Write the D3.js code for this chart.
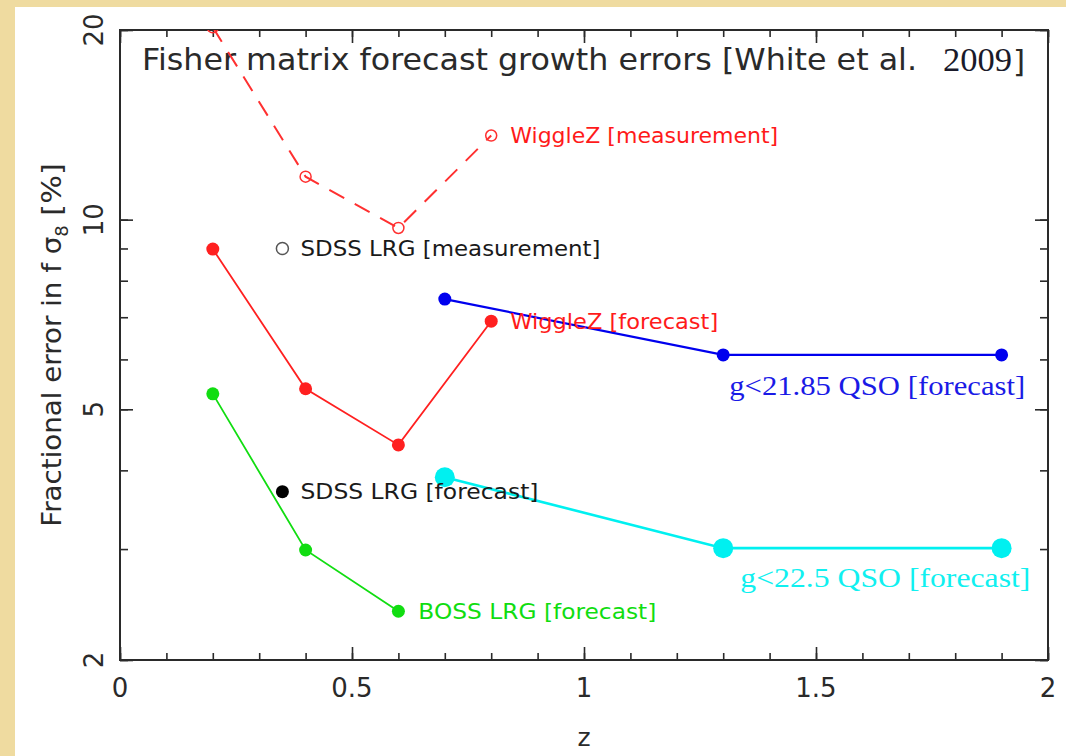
<!DOCTYPE html>
<html>
<head>
<meta charset="utf-8">
<script src="https://cdn.jsdelivr.net/npm/d3@7"></script>
<style>
  html, body { margin: 0; padding: 0; background: #efdba0; }
  svg { display: block; }
</style>
</head>
<body>
<script>
const W = 1066, H = 756;
const margin = { left: 120, top: 30, right: 18, bottom: 96 };

// values (z, fractional error in %)
const wigMeasZ = [0.2, 0.4, 0.6, 0.8];
const wigMeasErr = [20.2, 11.7, 9.7, 13.6];
const wigFcZ = [0.2, 0.4, 0.6, 0.8];
const wigFcErr = [8.98, 5.39, 4.39, 6.9];
const bossZ = [0.2, 0.4, 0.6];
const bossErr = [5.29, 2.99, 2.39];
const sdssMeasZ = [0.35];
const sdssMeasErr = [9.0];
const sdssFcZ = [0.35];
const sdssFcErr = [3.7];
const qsoBrightZ = [0.7, 1.3, 1.9];
const qsoBrightErr = [7.48, 6.1, 6.1];
const qsoFaintZ = [0.7, 1.3, 1.9];
const qsoFaintErr = [3.9, 3.01, 3.01];

const xTicks = [0, 0.5, 1, 1.5, 2];
const xMinor = d3.range(0, 2.01, 0.1);
const yTicks = [2, 5, 10, 20];
const yMinor = [2, 3, 4, 5, 6, 7, 8, 9, 10, 20];

const zip = (a, b) => a.map((z, i) => ({ z, e: b[i] }));

const svg = d3.select('body').append('svg').attr('width', W).attr('height', H);

// slide background + white panel
svg.append('rect').attr('width', W).attr('height', H).attr('fill', '#efdba0');
svg.append('rect').attr('x', 15).attr('y', 7).attr('width', W - 15).attr('height', H - 7).attr('fill', '#fff');

const x = d3.scaleLinear().domain([0, 2]).range([margin.left, W - margin.right]);
const y = d3.scaleLog().domain([2, 20]).range([H - margin.bottom, margin.top]);

svg.append('clipPath').attr('id', 'plotclip')
  .append('rect')
  .attr('x', x(0)).attr('y', y(20))
  .attr('width', x(2) - x(0)).attr('height', y(2) - y(20));

const ink = '#2a2a2a';

// ticks, drawn inside the box on all four sides
function ticks(axisFn, scale, vals, size, transform) {
  svg.append('g')
    .attr('transform', transform)
    .call(axisFn(scale).tickValues(vals).tickSize(size).tickFormat(''))
    .call(g => g.select('.domain').remove())
    .call(g => g.selectAll('line').attr('stroke', ink).attr('stroke-width', 1.6));
}
ticks(d3.axisTop, x, xMinor, 7, `translate(0,${y(2)})`);
ticks(d3.axisTop, x, xTicks, 13, `translate(0,${y(2)})`);
ticks(d3.axisBottom, x, xMinor, 7, `translate(0,${y(20)})`);
ticks(d3.axisBottom, x, xTicks, 13, `translate(0,${y(20)})`);
ticks(d3.axisRight, y, yMinor, 8, `translate(${x(0)},0)`);
ticks(d3.axisRight, y, yTicks, 13, `translate(${x(0)},0)`);
ticks(d3.axisLeft, y, yMinor, 8, `translate(${x(2)},0)`);
ticks(d3.axisLeft, y, yTicks, 13, `translate(${x(2)},0)`);

svg.append('rect')
  .attr('x', x(0)).attr('y', y(20))
  .attr('width', x(2) - x(0)).attr('height', y(2) - y(20))
  .attr('fill', 'none').attr('stroke', ink).attr('stroke-width', 2);

const sans = "'DejaVu Sans', sans-serif";
const serif = "'Liberation Serif', 'DejaVu Serif', serif";

// tick labels
svg.append('g').selectAll('text').data(xTicks).enter().append('text')
  .attr('x', d => x(d)).attr('y', y(2) + 37)
  .attr('text-anchor', 'middle')
  .attr('font-family', sans).attr('font-size', 26).attr('fill', ink)
  .text(d => d3.format('')(d));

svg.append('g').selectAll('text').data(yTicks).enter().append('text')
  .attr('transform', d => `translate(${x(0) - 17},${y(d)}) rotate(-90)`)
  .attr('text-anchor', 'middle')
  .attr('font-family', sans).attr('font-size', 26).attr('fill', ink)
  .text(d => d);

// axis titles
svg.append('text')
  .attr('x', (x(0) + x(2)) / 2).attr('y', 746)
  .attr('text-anchor', 'middle')
  .attr('font-family', sans).attr('font-size', 25).attr('fill', ink)
  .text('z');

const ylab = svg.append('text')
  .attr('transform', 'translate(61,345) rotate(-90)')
  .attr('text-anchor', 'middle')
  .attr('font-family', sans).attr('font-size', 27).attr('fill', ink);
ylab.append('tspan').attr('textLength', 290).attr('lengthAdjust', 'spacingAndGlyphs').text('Fractional error in f σ');
ylab.append('tspan').attr('font-size', 18).attr('dy', 7).text('8');
ylab.append('tspan').attr('dy', -7).attr('textLength', 62).attr('lengthAdjust', 'spacingAndGlyphs').text(' [%]');

// title, in three pieces to match the original spacing
svg.append('text')
  .attr('x', 142).attr('y', 70)
  .attr('font-family', sans).attr('font-size', 31).attr('fill', ink)
  .attr('textLength', 775).attr('lengthAdjust', 'spacingAndGlyphs')
  .text('Fisher matrix forecast growth errors [White et al.');
svg.append('text')
  .attr('x', 943).attr('y', 71)
  .attr('font-family', serif).attr('font-size', 34).attr('fill', '#1a1a2a')
  .attr('textLength', 69).attr('lengthAdjust', 'spacingAndGlyphs')
  .text('2009');
svg.append('text')
  .attr('x', 1013).attr('y', 72)
  .attr('font-family', sans).attr('font-size', 31).attr('fill', ink)
  .text(']');

// data
const plot = svg.append('g').attr('clip-path', 'url(#plotclip)');
const line = d3.line().x(d => x(d.z)).y(d => y(d.e));

function series(pts, color, width, dash, r, open) {
  plot.append('path').datum(pts)
    .attr('d', line).attr('fill', 'none')
    .attr('stroke', color).attr('stroke-width', width)
    .attr('stroke-dasharray', dash);
  plot.append('g').selectAll('circle').data(pts).enter().append('circle')
    .attr('cx', d => x(d.z)).attr('cy', d => y(d.e)).attr('r', r)
    .attr('fill', open ? 'none' : color)
    .attr('stroke', color).attr('stroke-width', open ? 1.5 : 0);
}

series(zip(wigMeasZ, wigMeasErr), '#ff3030', 2, '17 12', 5.5, true);
series(zip(wigFcZ, wigFcErr), '#ff2020', 1.8, null, 6.5, false);
series(zip(bossZ, bossErr), '#11dd11', 1.8, null, 6.5, false);
series(zip(qsoBrightZ, qsoBrightErr), '#0000ee', 2.2, null, 6.5, false);
series(zip(qsoFaintZ, qsoFaintErr), '#00f0f0', 2.6, null, 10, false);
series(zip(sdssMeasZ, sdssMeasErr), '#555', 0, null, 6, true);
series(zip(sdssFcZ, sdssFcErr), '#000', 0, null, 6.5, false);

// in-plot labels (anchored in data coordinates)
const labels = [
  { t: 'WiggleZ [measurement]', z: 0.841, e: 13.6, c: '#ff1a1a', f: sans, s: 21, len: 268, a: 'start' },
  { t: 'SDSS LRG [measurement]', z: 0.389, e: 9.0, c: '#1a1a1a', f: sans, s: 21, len: 300, a: 'start' },
  { t: 'WiggleZ [forecast]', z: 0.841, e: 6.9, c: '#ff1a1a', f: sans, s: 21, len: 208, a: 'start' },
  { t: 'SDSS LRG [forecast]', z: 0.389, e: 3.7, c: '#1a1a1a', f: sans, s: 21, len: 238, a: 'start' },
  { t: 'BOSS LRG [forecast]', z: 0.643, e: 2.39, c: '#10dd10', f: sans, s: 21, len: 238, a: 'start' },
  { t: 'g<21.85 QSO [forecast]', z: 1.951, e: 5.46, c: '#1a1ae6', f: serif, s: 27, len: 296, a: 'end' },
  { t: 'g<22.5 QSO [forecast]', z: 1.962, e: 2.71, c: '#10f0f0', f: serif, s: 27, len: 290, a: 'end' }
];

svg.append('g').selectAll('text').data(labels).enter().append('text')
  .attr('x', d => d.a === 'end' ? x(d.z) - d.len : x(d.z))
  .attr('y', d => y(d.e))
  .attr('dy', '0.36em')
  .attr('font-family', d => d.f).attr('font-size', d => d.s)
  .attr('fill', d => d.c)
  .attr('textLength', d => d.len).attr('lengthAdjust', 'spacingAndGlyphs')
  .text(d => d.t);
</script>
</body>
</html>
